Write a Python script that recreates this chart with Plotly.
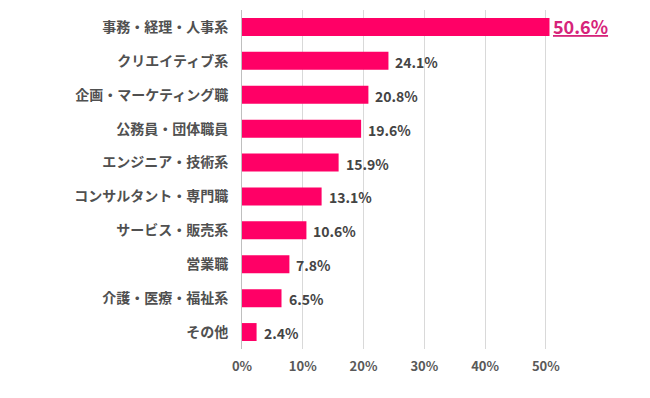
import plotly.graph_objects as go

categories = ["事務・経理・人事系", "クリエイティブ系", "企画・マーケティング職", "公務員・団体職員",
              "エンジニア・技術系", "コンサルタント・専門職", "サービス・販売系", "営業職",
              "介護・医療・福祉系", "その他"]
values = [50.6, 24.1, 20.8, 19.6, 15.9, 13.1, 10.6, 7.8, 6.5, 2.4]
tick_vals = [0, 10, 20, 30, 40, 50]
tick_text = ["0%", "10%", "20%", "30%", "40%", "50%"]

FONT = "Noto Sans CJK JP"
fig = go.Figure(go.Bar(
    x=values, y=categories, orientation="h",
    marker=dict(color="#FF0066", line=dict(width=0)),
    hoverinfo="skip",
))

annotations = []
for i, (c, v) in enumerate(zip(categories, values)):
    top = i == 0
    annotations.append(dict(
        x=v, y=c, xref="x", yref="y",
        text=(f"<u>{v}%</u>" if top else f"{v}%"),
        showarrow=False, xanchor="left", yanchor="middle",
        xshift=2 if top else 5, yshift=1 if top else -1,
        font=dict(family=FONT, size=18 if top else 14,
                  color="#D6247A" if top else "#444444", weight="bold"),
    ))

fig.update_layout(
    width=650, height=398,
    margin=dict(l=234, r=100, t=2, b=57),
    plot_bgcolor="white", paper_bgcolor="white",
    bargap=0.47,
    showlegend=False,
    annotations=annotations,
    xaxis=dict(range=[0, 52], tickvals=tick_vals, ticktext=tick_text,
               showgrid=True, gridcolor="#D9D9D9", gridwidth=1, zeroline=False,
               tickfont=dict(family=FONT, size=13, color="#595959", weight="bold"),
               ticks="", ticklabelstandoff=8),
    yaxis=dict(autorange="reversed", showline=True, linecolor="#BFBFBF", linewidth=1,
               showgrid=False, ticks="", ticklabelstandoff=10,
               tickfont=dict(family=FONT, size=14, color="#505050", weight="bold")),
)

fig.write_html("out.html")
